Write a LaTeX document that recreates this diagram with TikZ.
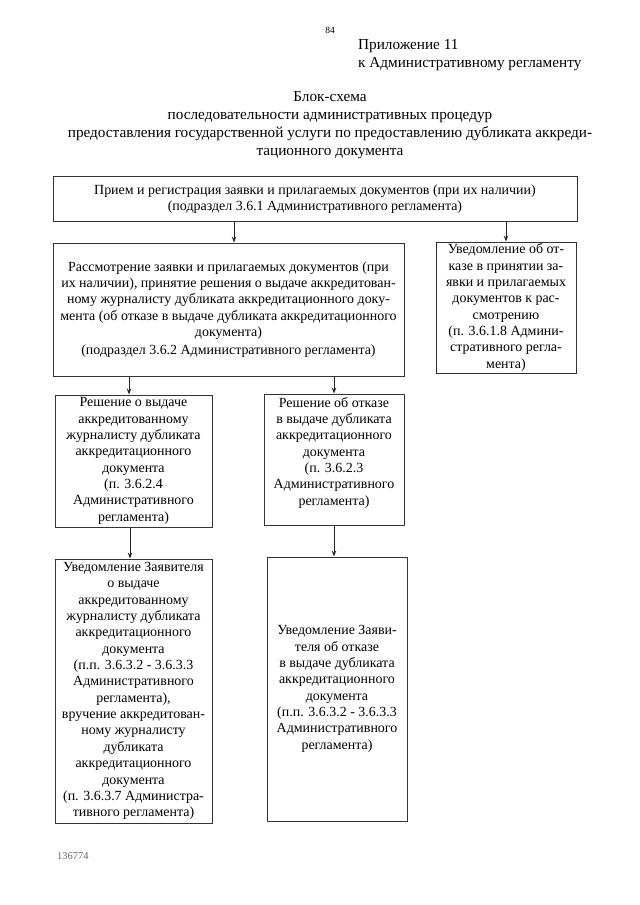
\documentclass[tikz,border=0pt]{standalone}
\usepackage{fontspec}
\setmainfont{Liberation Serif}
\usetikzlibrary{arrows.meta}
\tikzset{
  box/.style={draw=black!80, line width=0.9bp, rectangle, inner sep=0pt, align=center,
    font=\fontsize{14}{16.4}\selectfont},
  txt/.style={inner sep=0pt, align=center, font=\fontsize{14}{16.4}\selectfont},
  head/.style={inner sep=0pt, font=\fontsize{15.3}{18}\selectfont},
  arr/.style={draw=black!85, line width=0.9bp, -{Stealth[length=6bp,width=4.5bp]}}
}
\begin{document}
\begin{tikzpicture}[x=1bp,y=-1bp]
\useasboundingbox (0,0) rectangle (640,905);
\node[inner sep=0pt, font=\fontsize{9.5}{11}\selectfont] (pg) at (330,30) {84};
\node[head, anchor=west] (app1) at (358,46) {Приложение 11};
\node[head, anchor=west] (app2) at (358,64) {к Административному регламенту};
\node[head, align=center] (title) at (330,125.5) {Блок-схема\\последовательности административных процедур\\предоставления государственной услуги по предоставлению дубликата аккреди-\\тационного документа};

\node[box, minimum width=524bp, minimum height=45bp] (b1) at (315,199)
  {Прием и регистрация заявки и прилагаемых документов (при их наличии)\\(подраздел 3.6.1 Административного регламента)};
\node[box, minimum width=351bp, minimum height=133bp] (b2) at (228.5,309.5)
  {Рассмотрение заявки и прилагаемых документов (при\\их наличии), принятие решения о выдаче аккредитован-\\ному журналисту дубликата аккредитационного доку-\\мента (об отказе в выдаче дубликата аккредитационного\\документа)\\[2bp](подраздел 3.6.2 Административного регламента)};
\node[box, minimum width=140bp, minimum height=131bp] (b3) at (506,307.5)
  {Уведомление об от-\\казе в принятии за-\\явки и прилагаемых\\документов к рас-\\смотрению\\(п. 3.6.1.8 Админи-\\стративного регла-\\мента)};
\node[box, minimum width=157bp, minimum height=132bp] (b4) at (133.5,461)
  {Решение о выдаче\\аккредитованному\\журналисту дубликата\\аккредитационного\\документа\\(п. 3.6.2.4\\Административного\\регламента)};
\node[box, minimum width=140bp, minimum height=131bp] (b5) at (334,459.5) {};
\node[txt, anchor=north] (t5) at (334,397)
  {Решение об отказе\\в выдаче дубликата\\аккредитационного\\документа\\(п. 3.6.2.3\\Административного\\регламента)};
\node[box, minimum width=157bp, minimum height=264bp] (b6) at (133.5,691)
  {Уведомление Заявителя\\о выдаче\\аккредитованному\\журналисту дубликата\\аккредитационного\\документа\\(п.п. 3.6.3.2 - 3.6.3.3\\Административного\\регламента),\\вручение аккредитован-\\ному журналисту\\дубликата\\аккредитационного\\документа\\(п. 3.6.3.7 Администра-\\тивного регламента)};
\node[box, minimum width=140bp, minimum height=264bp] (b7) at (337,689)
  {Уведомление Заяви-\\теля об отказе\\в выдаче дубликата\\аккредитационного\\документа\\(п.п. 3.6.3.2 - 3.6.3.3\\Административного\\регламента)};

\node[inner sep=0pt, anchor=west, text=black!60, font=\fontsize{10.5}{12}\selectfont] (num) at (57,856) {136774};

\draw[arr] (234,0 |- b1.south) -- (234,0 |- b2.north);
\draw[arr] (506,0 |- b1.south) -- (506,0 |- b3.north);
\draw[arr] (129,0 |- b2.south) -- (129,0 |- b4.north);
\draw[arr] (334,0 |- b2.south) -- (334,0 |- b5.north);
\draw[arr] (130,0 |- b4.south) -- (130,0 |- b6.north);
\draw[arr] (334,0 |- b5.south) -- (334,0 |- b7.north);
\end{tikzpicture}
\end{document}
